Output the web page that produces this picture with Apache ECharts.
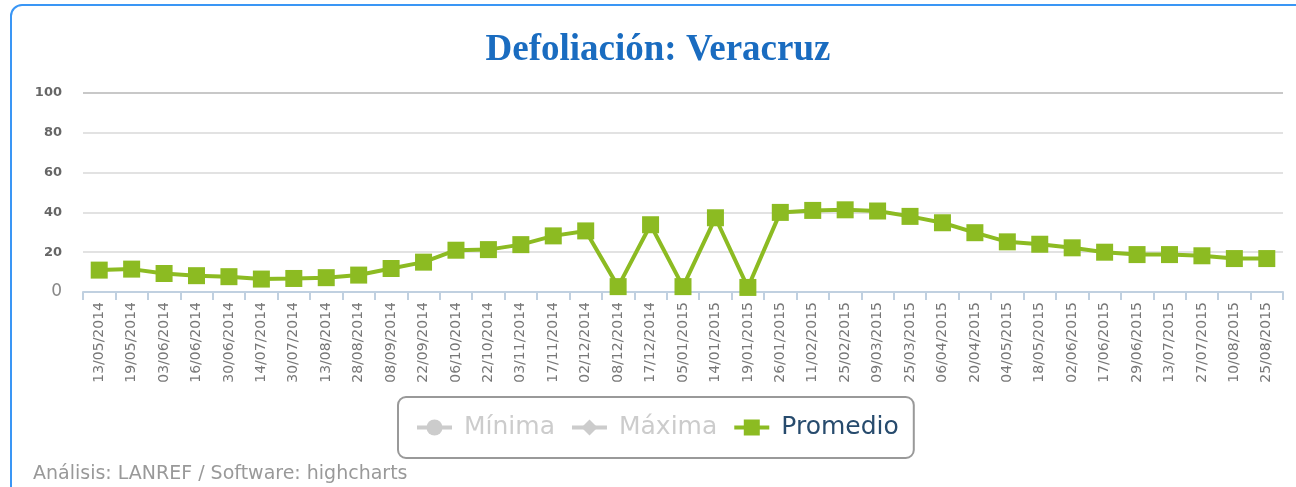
<!DOCTYPE html>
<html>
<head>
<meta charset="utf-8">
<title>Defoliación: Veracruz</title>
<script src="https://cdn.jsdelivr.net/npm/echarts@6/dist/echarts.min.js"></script>
<style>
	html,body{margin:0;padding:0;background:#fff;}
	#main{width:1296px;height:487px;}
</style>
</head>
<body>
<div id="main"></div>
<script>
// fechas de muestreo
var fechas = ['13/05/2014','19/05/2014','03/06/2014','16/06/2014','30/06/2014','14/07/2014','30/07/2014','13/08/2014',
	'28/08/2014','08/09/2014','22/09/2014','06/10/2014','22/10/2014','03/11/2014','17/11/2014','02/12/2014',
	'08/12/2014','17/12/2014','05/01/2015','14/01/2015','19/01/2015','26/01/2015','11/02/2015','25/02/2015',
	'09/03/2015','25/03/2015','06/04/2015','20/04/2015','04/05/2015','18/05/2015','02/06/2015','17/06/2015',
	'29/06/2015','13/07/2015','27/07/2015','10/08/2015','25/08/2015'];

// valores promedio (%)
var promedio = [11, 11.5, 9.3, 8.2, 7.7, 6.5, 6.8, 7.2, 8.5, 11.8, 15, 21,
	21.3, 23.8, 28.2, 30.7, 2.7, 33.8, 2.7, 37.3, 2.3, 40, 41, 41.3,
	40.7, 38, 34.8, 29.8, 25.2, 24, 22.2, 20, 18.8, 18.8, 18.2, 16.8, 16.8];

// series ocultas en la leyenda
var minima = [];
var maxima = [];

var yTicks = [0, 20, 40, 60, 80, 100];

var myChart = echarts.init(document.getElementById('main'));

var option = {
	backgroundColor: '#fff',
	animation: false,
	title: {
		text: 'Defoliación: Veracruz',
		left: 653,
		top: 27,
		textAlign: 'center',
		textStyle: {
			fontFamily: 'Liberation Serif',
			fontWeight: 'bold',
			fontSize: 37,
			color: '#1a6cc0'
		}
	},
	graphic: [{
		type: 'rect',
		shape: {x: 11, y: 5, width: 1400, height: 700, r: 11},
		style: {fill: 'none', stroke: '#3a96f5', lineWidth: 2},
		silent: true
	}, {
		type: 'text',
		left: 33,
		top: 465,
		style: {
			text: 'Análisis: LANREF / Software: highcharts',
			fontFamily: 'DejaVu Sans',
			fontSize: 19,
			fill: '#999'
		}
	}],
	legend: {
		left: 398,
		top: 397,
		data: ['Mínima', 'Máxima', 'Promedio'],
		selected: {'Mínima': false, 'Máxima': false, 'Promedio': true},
		inactiveColor: '#ccc',
		inactiveBorderColor: '#ccc',
		borderColor: '#999',
		borderWidth: 2,
		borderRadius: 8,
		padding: [18, 15, 18, 17],
		itemGap: 15,
		itemWidth: 35,
		itemHeight: 20,
		lineStyle: {width: 4, inactiveWidth: 4, inactiveColor: '#ccc'},
		textStyle: {
			fontFamily: 'DejaVu Sans',
			fontSize: 25,
			color: '#274b6d',
			padding: [0, 0, 0, 7]
		}
	},
	grid: {
		left: 83,
		right: 13,
		top: 93,
		bottom: 195,
		containLabel: false
	},
	xAxis: {
		type: 'category',
		data: fechas,
		boundaryGap: true,
		axisLine: {lineStyle: {color: '#c0d0e0', width: 2}},
		axisTick: {show: true, interval: 0, length: 8, lineStyle: {color: '#c0d0e0', width: 2}},
		axisLabel: {
			interval: 0,
			rotate: 90,
			margin: 10,
			fontFamily: 'DejaVu Sans',
			fontSize: 14,
			color: '#777'
		},
		splitLine: {show: false}
	},
	yAxis: {
		type: 'value',
		min: 0,
		max: 100,
		interval: 20,
		axisLine: {show: false},
		axisTick: {show: false},
		axisLabel: {
			margin: 21,
			fontFamily: 'DejaVu Sans',
			fontWeight: 'bold',
			fontSize: 13,
			color: '#666',
			formatter: function (v) {
				if (v === yTicks[0]) return '{z|' + v + '}';
				return v;
			},
			rich: {
				z: {fontFamily: 'DejaVu Sans', fontWeight: 'normal', fontSize: 17, color: '#888'}
			}
		},
		splitLine: {
			lineStyle: {
				color: ['#e2e2e2', '#e2e2e2', '#e2e2e2', '#e2e2e2', '#e2e2e2', '#c8c8c8'],
				width: 2
			}
		}
	},
	series: [{
		name: 'Mínima',
		type: 'line',
		data: minima,
		symbol: 'circle',
		symbolSize: 14,
		itemStyle: {color: '#8cbb22'},
		lineStyle: {width: 4}
	}, {
		name: 'Máxima',
		type: 'line',
		data: maxima,
		symbol: 'diamond',
		symbolSize: 14,
		itemStyle: {color: '#8cbb22'},
		lineStyle: {width: 4}
	}, {
		name: 'Promedio',
		type: 'line',
		data: promedio,
		symbol: 'rect',
		symbolSize: 17,
		itemStyle: {color: '#8cbb22'},
		lineStyle: {width: 4, color: '#8cbb22'}
	}]
};

myChart.setOption(option);
</script>
</body>
</html>
